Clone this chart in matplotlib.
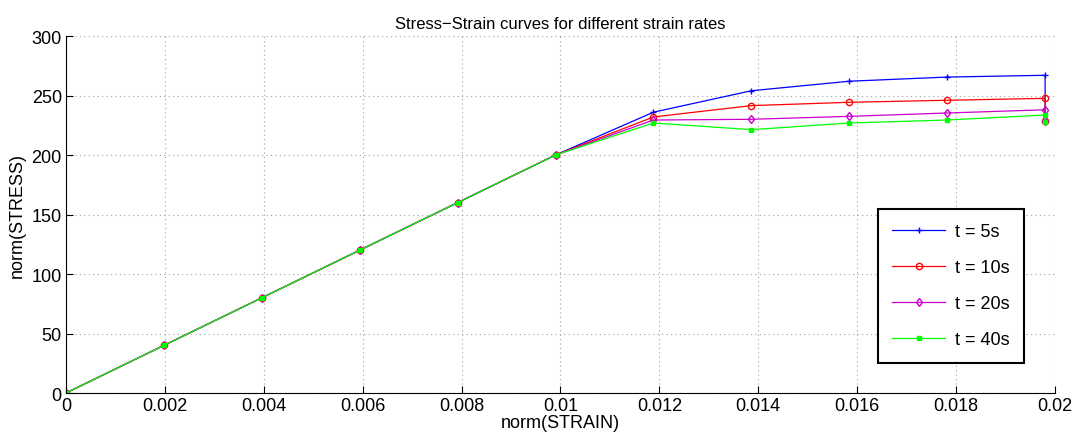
import numpy as np
import matplotlib
matplotlib.use("Agg")
import matplotlib.pyplot as plt

plt.rcParams['font.family'] = ['Liberation Sans', 'DejaVu Sans']

# strain values (same for every curve), last point repeated for the drop
strain = [0, 0.00198, 0.00396, 0.00594, 0.00792, 0.0099, 0.01188,
          0.01386, 0.01584, 0.01782, 0.0198, 0.0198]

stress_5s = [0, 40, 80, 120, 160, 200, 236, 254, 262, 265.5, 267, 229]
stress_10s = [0, 40, 80, 120, 160, 200, 232, 241.5, 244.3, 246, 247.6, 228.5]
stress_20s = [0, 40, 80, 120, 160, 200, 229.4, 230, 232.5, 235.3, 238, 228.5]
stress_40s = [0, 40, 80, 120, 160, 200, 226.9, 221.3, 226.9, 229.4, 233.6, 228]

labels = ['t = 5s', 't = 10s', 't = 20s', 't = 40s']

fig = plt.figure(figsize=(10.76, 4.39), dpi=100)
ax = fig.add_axes([0.0613, 0.1025, 0.9192, 0.8132])

ax.plot(strain, stress_5s, color='#0000ff', marker='+', markersize=4.5, lw=0.9, label=labels[0])
ax.plot(strain, stress_10s, color='#ff0000', marker='o', markersize=4.5, mfc='none', lw=0.9, label=labels[1])
ax.plot(strain, stress_20s, color='#cc00cc', marker='d', markersize=4.5, mfc='none', lw=0.9, label=labels[2])
ax.plot(strain, stress_40s, color='#00ff00', marker='s', markersize=3.2, lw=0.9, label=labels[3])

ax.set_xlim(0, 0.02)
ax.set_ylim(0, 300)
ax.set_xticks(np.arange(0, 0.0201, 0.002))
ax.set_xticklabels(['0', '0.002', '0.004', '0.006', '0.008', '0.01',
                    '0.012', '0.014', '0.016', '0.018', '0.02'])
ax.set_yticks(np.arange(0, 301, 50))

ax.grid(True, linestyle=(0, (1, 3)), color='#a0a0a0', lw=0.8)
ax.spines['top'].set_visible(False)
ax.spines['right'].set_visible(False)
ax.tick_params(direction='in', length=5, labelsize=13, pad=3)

ax.set_title('Stress\u2212Strain curves for different strain rates', fontsize=12, pad=6)
ax.set_xlabel('norm(STRAIN)', fontsize=13, labelpad=0)
ax.set_ylabel('norm(STRESS)', fontsize=13, labelpad=4)

leg = ax.legend(loc='lower right', bbox_to_anchor=(0.972, 0.075), fontsize=13,
                fancybox=False, edgecolor='black', framealpha=1,
                handlelength=2.9, handletextpad=0.55, borderpad=0.8,
                labelspacing=1.05, borderaxespad=0.2)
leg.get_frame().set_linewidth(1.5)

fig.savefig('out.png', dpi=100)
